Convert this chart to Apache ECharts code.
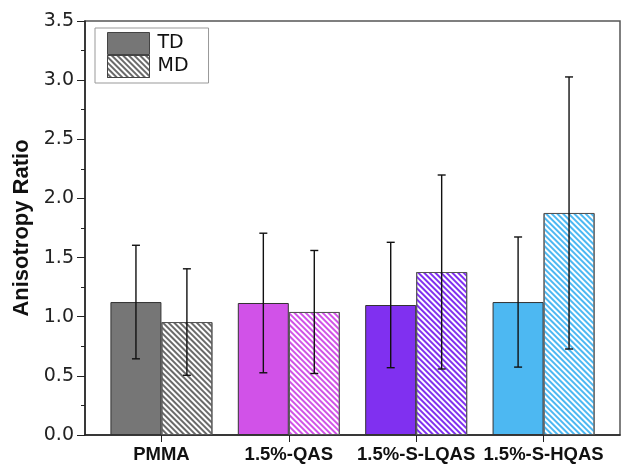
<!DOCTYPE html>
<html>
<head>
<meta charset="utf-8">
<script src="https://cdn.jsdelivr.net/npm/echarts@6/dist/echarts.min.js"></script>
<style>html,body{margin:0;padding:0;background:#fff}#c{width:621px;height:465px}</style>
</head>
<body>
<div id="c"></div>
<script>
var categories = ['PMMA', '1.5%-QAS', '1.5%-S-LQAS', '1.5%-S-HQAS'];
var catPositions = [1, 2, 3, 4];
var tdValues = [1.124, 1.116, 1.099, 1.124];
var tdErrors = [0.48, 0.59, 0.53, 0.55];
var mdValues = [0.955, 1.04, 1.378, 1.877];
var mdErrors = [0.45, 0.52, 0.82, 1.15];
var yTicks = [0, 0.5, 1.0, 1.5, 2.0, 2.5, 3.0, 3.5];
var tdColors = ['#767676', '#d152e8', '#8030f0', '#4db8f2'];
var mdColors = ['#6a6a6a', '#d152e8', '#8030f0', '#4db8f2'];

var BAR_UNITS = 0.4;
var chart = echarts.init(document.getElementById('c'), null, {renderer: 'canvas'});

function hatch(color) {
  return {
    symbol: 'rect', symbolSize: 1,
    dashArrayX: [1, 0], dashArrayY: [1.4, 1.5],
    rotation: Math.PI / 4,
    color: color, backgroundColor: 'rgba(0,0,0,0)'
  };
}

function errSeries(name, values, errors, side) {
  return {
    type: 'custom', name: name + '_err', silent: true, z: 5,
    data: catPositions.map(function (x, i) { return [x, values[i], errors[i]]; }),
    renderItem: function (params, api) {
      var x = api.value(0), m = api.value(1), e = api.value(2);
      var half = api.size([BAR_UNITS, 0])[0] / 2;
      var top = api.coord([x, m + e]);
      var bot = api.coord([x, m - e]);
      var cx = top[0] + side * half;
      var cap = 4;
      var st = {stroke: '#111', lineWidth: 1.4};
      return {type: 'group', children: [
        {type: 'line', shape: {x1: cx, y1: top[1], x2: cx, y2: bot[1]}, style: st},
        {type: 'line', shape: {x1: cx - cap, y1: top[1], x2: cx + cap, y2: top[1]}, style: st},
        {type: 'line', shape: {x1: cx - cap, y1: bot[1], x2: cx + cap, y2: bot[1]}, style: st}
      ]};
    }
  };
}

var option = {
  animation: false,
  grid: {left: 85, right: 1, top: 21, bottom: 30, show: true, borderColor: '#555', borderWidth: 1.5},
  legend: {
    left: 95, top: 28, orient: 'vertical', itemGap: 0,
    itemWidth: 42, itemHeight: 22, icon: 'rect',
    padding: [4, 20, 5, 12],
    borderColor: '#999', borderWidth: 1,
    itemStyle: {borderColor: '#444', borderWidth: 1},
    textStyle: {fontFamily: 'DejaVu Sans', fontSize: 19, color: '#111', padding: [0, 0, 0, 3]},
    data: ['TD', 'MD']
  },
  xAxis: {
    type: 'value', min: 0.4, max: 4.6,
    splitLine: {show: false},
    axisLine: {show: true, onZero: false, lineStyle: {color: '#222', width: 1.5}},
    axisTick: {show: true, customValues: catPositions, length: 7, lineStyle: {color: '#222'}},
    axisLabel: {
      customValues: catPositions, margin: 10,
      fontFamily: 'Liberation Sans', fontWeight: 'bold', fontSize: 18.5, color: '#111',
      formatter: function (v) { return categories[Math.round(v) - 1] || ''; }
    }
  },
  yAxis: {
    type: 'value', min: yTicks[0], max: yTicks[yTicks.length - 1], interval: 0.5,
    name: 'Anisotropy Ratio', nameLocation: 'middle', nameGap: 52,
    nameTextStyle: {fontFamily: 'Liberation Sans', fontWeight: 'bold', fontSize: 22, color: '#111'},
    splitLine: {show: false},
    axisLine: {show: true, lineStyle: {color: '#222', width: 1.5}},
    axisTick: {show: true, length: 8, lineStyle: {color: '#222'}},
    minorTick: {show: true, splitNumber: 2, length: 4, lineStyle: {color: '#222'}},
    axisLabel: {
      margin: 11, fontFamily: 'DejaVu Sans', fontSize: 19, color: '#222',
      formatter: function (v) { return v.toFixed(1); }
    }
  },
  series: [
    {
      type: 'bar', name: 'TD', barWidth: 51, barGap: '0%',
      itemStyle: {color: tdColors[0], borderColor: '#333', borderWidth: 1},
      data: catPositions.map(function (x, i) {
        return {value: [x, tdValues[i]], itemStyle: {color: tdColors[i]}};
      })
    },
    {
      type: 'bar', name: 'MD', barWidth: 51, barGap: '0%',
      itemStyle: {color: '#fff', borderColor: '#555', borderWidth: 1, decal: hatch(mdColors[0])},
      data: catPositions.map(function (x, i) {
        return {value: [x, mdValues[i]], itemStyle: {decal: hatch(mdColors[i])}};
      })
    },
    errSeries('TD', tdValues, tdErrors, -1),
    errSeries('MD', mdValues, mdErrors, 1)
  ]
};
chart.setOption(option);
</script>
</body>
</html>
